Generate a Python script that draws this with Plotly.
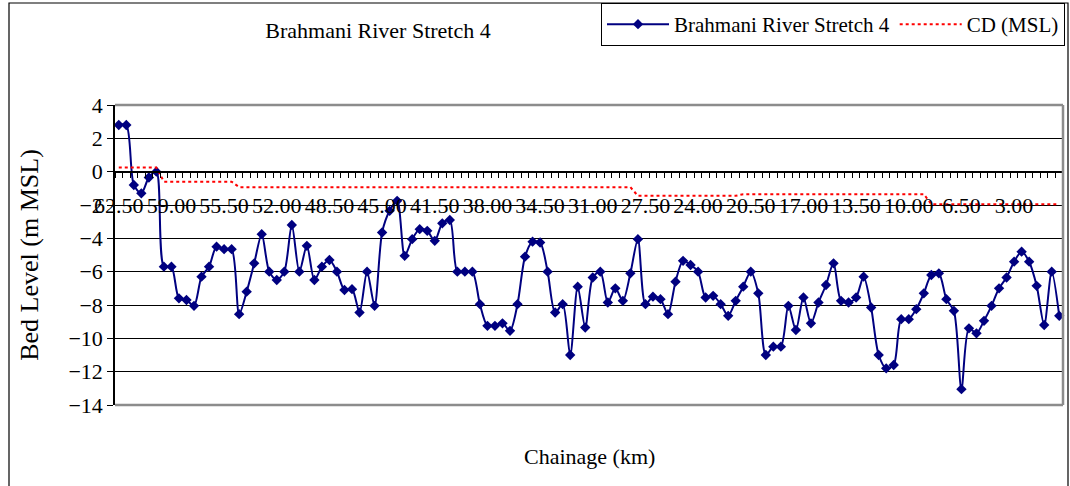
import plotly.graph_objects as go

# chainage categories (km), read left to right
chainage = [
    62.5, 62.0, 61.5, 61.0, 60.5, 60.0, 59.5, 59.0, 58.5, 58.0, 57.5, 57.0, 56.5, 56.0,
    55.5, 55.0, 54.5, 54.0, 53.5, 53.0, 52.5, 52.0, 51.5, 51.0, 50.5, 50.0, 49.5, 49.0,
    48.5, 48.0, 47.5, 47.0, 46.5, 46.0, 45.5, 45.0, 44.5, 44.0, 43.5, 43.0, 42.5, 42.0,
    41.5, 41.0, 40.5, 40.0, 39.5, 39.0, 38.5, 38.0, 37.5, 37.0, 36.5, 36.0, 35.5, 35.0,
    34.5, 34.0, 33.5, 33.0, 32.5, 32.0, 31.5, 31.0, 30.5, 30.0, 29.5, 29.0, 28.5, 28.0,
    27.5, 27.0, 26.5, 26.0, 25.5, 25.0, 24.5, 24.0, 23.5, 23.0, 22.5, 22.0, 21.5, 21.0,
    20.5, 20.0, 19.5, 19.0, 18.5, 18.0, 17.5, 17.0, 16.5, 16.0, 15.5, 15.0, 14.5, 14.0,
    13.5, 13.0, 12.5, 12.0, 11.5, 11.0, 10.5, 10.0, 9.5, 9.0, 8.5, 8.0, 7.5, 7.0,
    6.5, 6.0, 5.5, 5.0, 4.5, 4.0, 3.5, 3.0, 2.5, 2.0, 1.5, 1.0, 0.5, 0.0,
]

# bed level (m MSL)
bed_level = [
    2.8, 2.8, -0.8, -1.3, -0.35, 0.0, -5.7, -5.7, -7.6, -7.7, -8.05, -6.3, -5.7, -4.5,
    -4.65, -4.65, -8.55, -7.2, -5.5, -3.75, -6.0, -6.5, -6.0, -3.2, -6.0, -4.45, -6.5, -5.7,
    -5.3, -6.0, -7.1, -7.05, -8.45, -6.0, -8.05, -3.65, -2.35, -1.75, -5.05, -4.05, -3.45, -3.55,
    -4.15, -3.1, -2.9, -6.0, -6.0, -6.0, -7.95, -9.25, -9.25, -9.1, -9.55, -7.95, -5.1, -4.2,
    -4.25, -6.0, -8.45, -7.95, -11.0, -6.9, -9.35, -6.35, -6.0, -7.85, -7.0, -7.75, -6.1, -4.05,
    -7.95, -7.5, -7.65, -8.55, -6.6, -5.35, -5.6, -6.0, -7.55, -7.45, -7.95, -8.65, -7.75, -6.9,
    -6.0, -7.3, -11.0, -10.5, -10.5, -8.05, -9.5, -7.55, -9.1, -7.85, -6.8, -5.5, -7.75, -7.85,
    -7.55, -6.3, -8.15, -11.0, -11.8, -11.6, -8.85, -8.85, -8.25, -7.3, -6.2, -6.1, -7.65, -8.35,
    -13.05, -9.4, -9.7, -8.95, -8.05, -7.0, -6.35, -5.4, -4.8, -5.4, -6.85, -9.2, -6.0, -8.65,
]

# chart datum (m MSL)
cd_msl = [
    0.25, 0.25, 0.25, 0.25, 0.25, 0.25, -0.6, -0.6, -0.6, -0.6, -0.6, -0.6, -0.6, -0.6,
    -0.6, -0.6, -0.93, -0.93, -0.93, -0.93, -0.93, -0.93, -0.93, -0.93, -0.93, -0.93, -0.93, -0.93,
    -0.93, -0.93, -0.93, -0.93, -0.93, -0.93, -0.93, -0.93, -0.93, -0.93, -0.93, -0.93, -0.93, -0.93,
    -0.93, -0.93, -0.93, -0.93, -0.93, -0.93, -0.93, -0.93, -0.93, -0.93, -0.93, -0.93, -0.93, -0.93,
    -0.93, -0.93, -0.93, -0.93, -0.93, -0.93, -0.93, -0.93, -0.93, -0.93, -0.93, -0.93, -0.93, -1.45,
    -1.45, -1.45, -1.45, -1.45, -1.45, -1.45, -1.45, -1.45, -1.45, -1.45, -1.45, -1.45, -1.45, -1.35,
    -1.35, -1.35, -1.35, -1.35, -1.35, -1.35, -1.35, -1.35, -1.35, -1.35, -1.35, -1.35, -1.35, -1.35,
    -1.35, -1.35, -1.35, -1.35, -1.35, -1.35, -1.35, -1.35, -1.35, -1.35, -1.95, -1.95, -1.95, -1.95,
    -1.95, -1.95, -1.95, -1.95, -1.95, -1.95, -1.95, -1.95, -1.95, -1.95, -1.95, -1.95, -1.95, -1.95,
]

FONT = "Liberation Serif"
W, H = 1070, 486
L, R, T, B = 115, 7, 105, 81
pw, ph = W - L - R, H - T - B


def px_x(p):
    return (p - L) / pw


def px_y(p):
    return (H - B - p) / ph


fig = go.Figure()
fig.add_trace(go.Scatter(
    x=chainage, y=bed_level, name="Brahmani River Stretch 4", mode="lines+markers",
    line=dict(color="#000080", width=2, shape="spline", smoothing=0.8),
    marker=dict(symbol="diamond", size=8, color="#000080"),
    cliponaxis=False,
))
fig.add_trace(go.Scatter(
    x=chainage, y=cd_msl, name="CD (MSL)", mode="lines",
    line=dict(color="#ff0000", width=2, dash="dot"),
))

fig.update_layout(
    width=W, height=H,
    margin=dict(l=L, r=R, t=T, b=B, autoexpand=False),
    paper_bgcolor="white", plot_bgcolor="white",
    font=dict(family=FONT, size=22, color="black"),
    title=dict(text="Brahmani River Stretch 4", x=378 / W, xanchor="center",
               y=1 - 30 / H, yanchor="middle", font=dict(size=22)),
    showlegend=True,
    legend=dict(orientation="h", x=px_x(1065), xanchor="right", y=px_y(3), yanchor="top",
                bordercolor="black", borderwidth=1, bgcolor="white",
                font=dict(size=21), itemwidth=62),
)

fig.update_xaxes(
    range=[62.75, -0.25], anchor="free", position=14 / 18, automargin=False,
    showline=True, linecolor="black", linewidth=1.5,
    showgrid=False, zeroline=False,
    tick0=62.5, dtick=3.5, tickformat=".2f", ticks="", tickangle=0,
    ticklabelstandoff=14,
    minor=dict(ticks="outside", ticklen=6, tickcolor="black", tick0=0.25, dtick=0.5, showgrid=False),
)
fig.update_yaxes(
    range=[-14, 4], dtick=2, automargin=False,
    showline=True, linecolor="black", linewidth=1.5,
    showgrid=True, gridcolor="black", gridwidth=1.2, zeroline=False,
    ticks="outside", ticklen=6, tickcolor="black",
    title=dict(text="Bed Level (m MSL)", standoff=22),
)

# grey plot-area frame (top, right, bottom)
for x0, y0, x1, y1 in [(0, 1, 1, 1), (1, 0, 1, 1), (0, 0, 1, 0)]:
    fig.add_shape(type="line", xref="paper", yref="paper", x0=x0, y0=y0, x1=x1, y1=y1,
                  line=dict(color="#8c8c8c", width=2.5))

# chart-area border
fig.add_shape(type="rect", xref="paper", yref="paper",
              x0=px_x(9), x1=px_x(1068), y0=px_y(492), y1=px_y(3),
              line=dict(color="black", width=1.2))

fig.add_annotation(text="Chainage (km)", xref="paper", yref="paper", x=0.5, y=px_y(456),
                   showarrow=False, yanchor="middle", font=dict(size=22))

# page body has a default 8px margin; drop it so the figure sits at the window origin
fig.write_html("out.html", config={"displayModeBar": False},
               post_script="document.body.style.margin='0';")
